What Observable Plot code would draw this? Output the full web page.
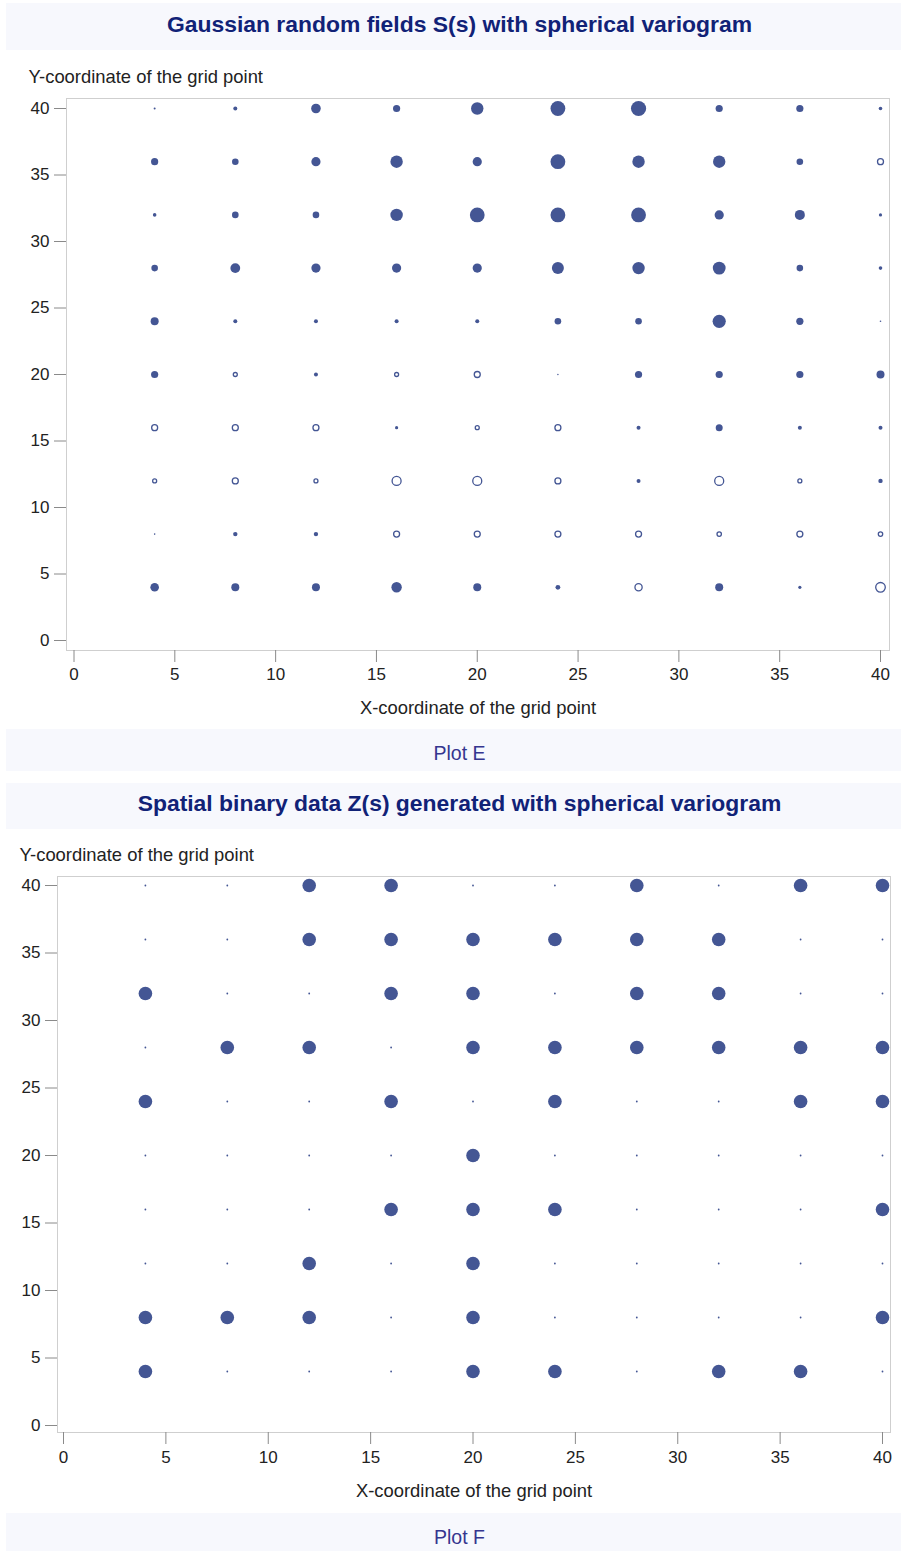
<!DOCTYPE html>
<html>
<head>
<meta charset="utf-8">
<script src="https://cdn.jsdelivr.net/npm/d3@7"></script>
<script src="https://cdn.jsdelivr.net/npm/@observablehq/plot@0.6"></script>
<style>
  body { margin: 0; background: #ffffff; font-family: "Liberation Sans", Arial, sans-serif; }
  #page { position: relative; width: 901px; height: 1551px; overflow: hidden; background: #ffffff; }
  .band { position: absolute; left: 6px; width: 895px; background: #f7f8fd; }
  .title { position: absolute; left: 18px; right: 0; text-align: center; font-weight: bold; font-size: 22.9px; line-height: 1; color: #112277; white-space: nowrap; }
  .foot { position: absolute; left: 18px; right: 0; text-align: center; font-size: 19.5px; line-height: 1; color: #35358f; white-space: nowrap; }
  .chart { position: absolute; left: 0; }
  .chart svg { display: block; }
</style>
</head>
<body>
<div id="page">
  <div class="band" style="top:3px;height:47px"></div>
  <div class="title" style="top:13px">Gaussian random fields S(s) with spherical variogram</div>
  <div class="chart" id="chartE" style="top:52px"></div>
  <div class="band" style="top:729px;height:42px"></div>
  <div class="foot" style="top:744px">Plot E</div>

  <div class="band" style="top:783px;height:46px"></div>
  <div class="title" style="top:792px">Spatial binary data Z(s) generated with spherical variogram</div>
  <div class="chart" id="chartF" style="top:830px"></div>
  <div class="band" style="top:1513px;height:38px"></div>
  <div class="foot" style="top:1528px">Plot F</div>
</div>
<script>
// Grid coordinates
const gridX = [4, 8, 12, 16, 20, 24, 28, 32, 36, 40];
const gridY = [40, 36, 32, 28, 24, 20, 16, 12, 8, 4];
const axisTicks = [0, 5, 10, 15, 20, 25, 30, 35, 40];

// Plot E: Gaussian random field S(s), one row per gridY value (positive = filled, negative = hollow)
const gaussianS = [
  [0.40, 0.80, 1.92, 1.44, 2.48, 2.96, 3.04, 1.44, 1.44, 0.72],
  [1.44, 1.32, 1.84, 2.48, 1.84, 2.96, 2.48, 2.48, 1.32, -1.20],
  [0.72, 1.32, 1.32, 2.48, 2.96, 2.96, 2.96, 1.84, 2.00, 0.64],
  [1.32, 1.96, 1.84, 1.84, 1.84, 2.40, 2.48, 2.56, 1.32, 0.72],
  [1.60, 0.80, 0.80, 0.80, 0.80, 1.32, 1.32, 2.64, 1.44, 0.32],
  [1.44, -0.80, 0.80, -0.80, -1.20, 0.28, 1.44, 1.44, 1.44, 1.60],
  [-1.20, -1.20, -1.20, 0.64, -0.80, -1.20, 0.80, 1.40, 0.80, 0.80],
  [-0.80, -1.20, -0.80, -1.80, -1.80, -1.20, 0.80, -1.80, -0.80, 0.88],
  [0.32, 0.88, 0.88, -1.20, -1.20, -1.20, -1.20, -0.88, -1.20, -0.88],
  [1.72, 1.60, 1.60, 2.08, 1.60, 0.96, -1.44, 1.60, 0.64, -1.92]
];

// Plot F: binary data Z(s), one row per gridY value
const binaryZ = [
  [0, 0, 1, 1, 0, 0, 1, 0, 1, 1],
  [0, 0, 1, 1, 1, 1, 1, 1, 0, 0],
  [1, 0, 0, 1, 1, 0, 1, 1, 0, 0],
  [0, 1, 1, 0, 1, 1, 1, 1, 1, 1],
  [1, 0, 0, 1, 0, 1, 0, 0, 1, 1],
  [0, 0, 0, 0, 1, 0, 0, 0, 0, 0],
  [0, 0, 0, 1, 1, 1, 0, 0, 0, 1],
  [0, 0, 1, 0, 1, 0, 0, 0, 0, 0],
  [1, 1, 1, 0, 1, 0, 0, 0, 0, 1],
  [1, 0, 0, 0, 1, 1, 0, 1, 1, 0]
];

const xLabel = "X-coordinate of the grid point";
const yLabel = "Y-coordinate of the grid point";
const markColor = "#445694";

const fieldData = [];
const binaryData = [];
gridY.forEach((yv, i) => gridX.forEach((xv, j) => {
  fieldData.push({x: xv, y: yv, s: gaussianS[i][j]});
  binaryData.push({x: xv, y: yv, z: binaryZ[i][j]});
}));

const baseStyle = {fontFamily: '"Liberation Sans", Arial, sans-serif', fontSize: "17px", color: "#222", background: "transparent", overflow: "visible"};

const chartE = Plot.plot({
  width: 901, height: 676,
  marginTop: 46, marginBottom: 78, marginLeft: 66, marginRight: 12,
  style: baseStyle,
  x: {domain: [0, 40], insetLeft: 7.5, insetRight: 9},
  y: {domain: [0, 40], insetTop: 10, insetBottom: 10},
  r: {type: "linear", domain: [0, 3], range: [0, 7.5]},
  marks: [
    Plot.frame({stroke: "#cfcfcf"}),
    Plot.axisX({ticks: axisTicks, tickSize: 12, tickPadding: 5, stroke: "#8a8a8a", fill: "#222", label: null}),
    Plot.axisY({ticks: axisTicks, tickSize: 12, tickPadding: 5, stroke: "#8a8a8a", fill: "#222", label: null}),
    Plot.dot(fieldData.filter(d => d.s >= 0), {x: "x", y: "y", r: d => Math.abs(d.s), fill: markColor, stroke: "none"}),
    Plot.dot(fieldData.filter(d => d.s < 0), {x: "x", y: "y", r: d => Math.abs(d.s), fill: "white", stroke: markColor, strokeWidth: 1.3}),
    Plot.text([yLabel], {text: d => d, frameAnchor: "top-left", dx: -38, dy: -21, textAnchor: "start", lineAnchor: "middle", fontSize: 18.4, fill: "#222"}),
    Plot.text([xLabel], {text: d => d, frameAnchor: "bottom", dy: 58, lineAnchor: "middle", fontSize: 18.4, fill: "#222"})
  ]
});
document.getElementById("chartE").appendChild(chartE);

const chartF = Plot.plot({
  width: 901, height: 683,
  marginTop: 46, marginBottom: 81, marginLeft: 57, marginRight: 11,
  style: baseStyle,
  x: {domain: [0, 40], insetLeft: 6, insetRight: 8},
  y: {domain: [0, 40], insetTop: 9, insetBottom: 7},
  r: {type: "linear", domain: [0, 1], range: [0.9, 6.8]},
  marks: [
    Plot.frame({stroke: "#cfcfcf"}),
    Plot.axisX({ticks: axisTicks, tickSize: 12, tickPadding: 6, stroke: "#8a8a8a", fill: "#222", label: null}),
    Plot.axisY({ticks: axisTicks, tickSize: 12, tickPadding: 5, stroke: "#8a8a8a", fill: "#222", label: null}),
    Plot.dot(binaryData, {x: "x", y: "y", r: "z", fill: markColor, stroke: "none"}),
    Plot.text([yLabel], {text: d => d, frameAnchor: "top-left", dx: -38, dy: -21, textAnchor: "start", lineAnchor: "middle", fontSize: 18.4, fill: "#222"}),
    Plot.text([xLabel], {text: d => d, frameAnchor: "bottom", dy: 59, lineAnchor: "middle", fontSize: 18.4, fill: "#222"})
  ]
});
document.getElementById("chartF").appendChild(chartF);
</script>
</body>
</html>
